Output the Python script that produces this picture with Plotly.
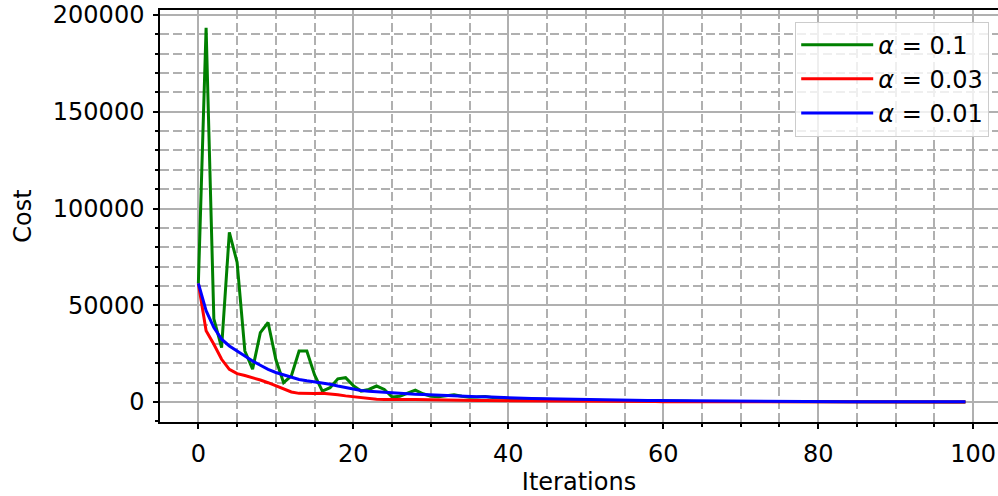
import plotly.graph_objects as go

iterations = list(range(100))

cost_alpha_0_1 = [
    61300, 193400, 43000, 28100, 87700, 72200, 26400, 17000, 35900, 41100,
    22000, 10000, 13500, 26400, 26400, 14000, 5700, 7400, 12000, 12600,
    8500, 5700, 6500, 8300, 6500, 2600, 3000, 4500, 6200, 4300,
    3000, 2800, 3300, 3800, 3000, 2500, 2600, 2900, 2300, 2000,
    1900, 1800, 1650, 1550, 1450, 1350, 1250, 1150, 1080, 1000,
    930, 870, 810, 750, 700, 650, 600, 560, 520, 480,
    450, 420, 390, 360, 330, 310, 290, 270, 250, 230,
    210, 195, 180, 165, 150, 140, 130, 120, 110, 100,
    92, 85, 78, 72, 66, 60, 55, 50, 46, 42,
    38, 35, 32, 29, 26, 24, 22, 20, 18, 16,
]

cost_alpha_0_03 = [
    61300, 36800, 29900, 22100, 16900, 14700, 13700, 12600, 11400, 10000,
    8300, 6600, 5200, 4500, 4300, 4400, 4500, 4300, 3800, 3200,
    2700, 2200, 1800, 1500, 1300, 1400, 1400, 1350, 1300, 1200,
    1100, 1050, 1000, 950, 900, 860, 820, 780, 740, 700,
    670, 640, 610, 580, 550, 520, 490, 460, 440, 420,
    400, 380, 360, 340, 320, 300, 285, 270, 255, 240,
    225, 210, 200, 190, 180, 170, 160, 150, 140, 130,
    120, 115, 110, 105, 100, 95, 90, 85, 80, 76,
    72, 68, 64, 60, 57, 54, 51, 48, 45, 42,
    40, 38, 36, 34, 32, 30, 28, 26, 24, 22,
]

cost_alpha_0_01 = [
    61300, 47200, 38500, 32500, 29000, 26400, 23500, 21200, 19000, 16900,
    15300, 14000, 12800, 11700, 11000, 10500, 9800, 9200, 8300, 7400,
    6700, 6000, 5600, 5300, 5000, 4700, 4500, 4300, 4100, 3900,
    3700, 3500, 3400, 3300, 3100, 3000, 2800, 2700, 2500, 2400,
    2300, 2150, 2000, 1900, 1800, 1700, 1600, 1500, 1420, 1340,
    1260, 1190, 1120, 1060, 1000, 950, 900, 850, 800, 760,
    720, 680, 640, 610, 580, 550, 520, 490, 470, 450,
    420, 400, 380, 360, 340, 320, 300, 290, 280, 260,
    250, 240, 230, 220, 210, 200, 190, 180, 170, 160,
    150, 145, 140, 130, 125, 120, 115, 110, 105, 100,
]

series = [
    ("<i>α</i> = 0.1", cost_alpha_0_1, "#008000"),
    ("<i>α</i> = 0.03", cost_alpha_0_03, "#ff0000"),
    ("<i>α</i> = 0.01", cost_alpha_0_01, "#0000ff"),
]

x_ticks = [0, 20, 40, 60, 80, 100]
y_ticks = [0, 50000, 100000, 150000, 200000]

fig = go.Figure()
for name, vals, color in series:
    fig.add_trace(go.Scatter(x=iterations, y=vals, mode="lines", name=name,
                             line=dict(color=color, width=3)))

FONT = "DejaVu Sans"
grid_major = "#b0b0b0"
grid_minor = "#b0b0b0"
FS = 24

fig.update_layout(
    width=998, height=496,
    margin=dict(l=160, r=0, t=10, b=74),
    paper_bgcolor="white", plot_bgcolor="white",
    font=dict(family=FONT, size=FS, color="black"),
    showlegend=True,
    legend=dict(x=0.758, y=0.972, xanchor="left", yanchor="top",
                bgcolor="rgba(255,255,255,0.8)", bordercolor="#cccccc",
                borderwidth=1, font=dict(size=FS), tracegroupgap=0,
                itemwidth=72),
)

fig.update_xaxes(
    range=[-4.95, 103.2], tickvals=x_ticks, ticktext=[str(v) for v in x_ticks],
    showline=True, linecolor="black", linewidth=1.5, mirror=True,
    ticks="outside", ticklen=5, tickwidth=1.5, tickcolor="black",
    ticklabelstandoff=4,
    showgrid=True, gridcolor=grid_major, gridwidth=1.6,
    zeroline=False,
    minor=dict(dtick=5, tick0=0, ticks="outside", ticklen=3, tickcolor="black",
               showgrid=True, gridcolor=grid_minor, gridwidth=1.6, griddash="9px,4px"),
    title=dict(text="Iterations", standoff=10, font=dict(size=FS)),
)
fig.update_yaxes(
    range=[-10300, 202600], tickvals=y_ticks, ticktext=[str(v) for v in y_ticks],
    showline=True, linecolor="black", linewidth=1.5, mirror=False,
    ticks="outside", ticklen=5, tickwidth=1.5, tickcolor="black",
    ticklabelstandoff=4,
    showgrid=True, gridcolor=grid_major, gridwidth=1.6,
    zeroline=False,
    minor=dict(dtick=10000, tick0=0, ticks="outside", ticklen=3, tickcolor="black",
               showgrid=True, gridcolor=grid_minor, gridwidth=1.6, griddash="9px,4px"),
    title=dict(text="Cost", standoff=14, font=dict(size=FS)),
)

fig.write_html("out.html")
